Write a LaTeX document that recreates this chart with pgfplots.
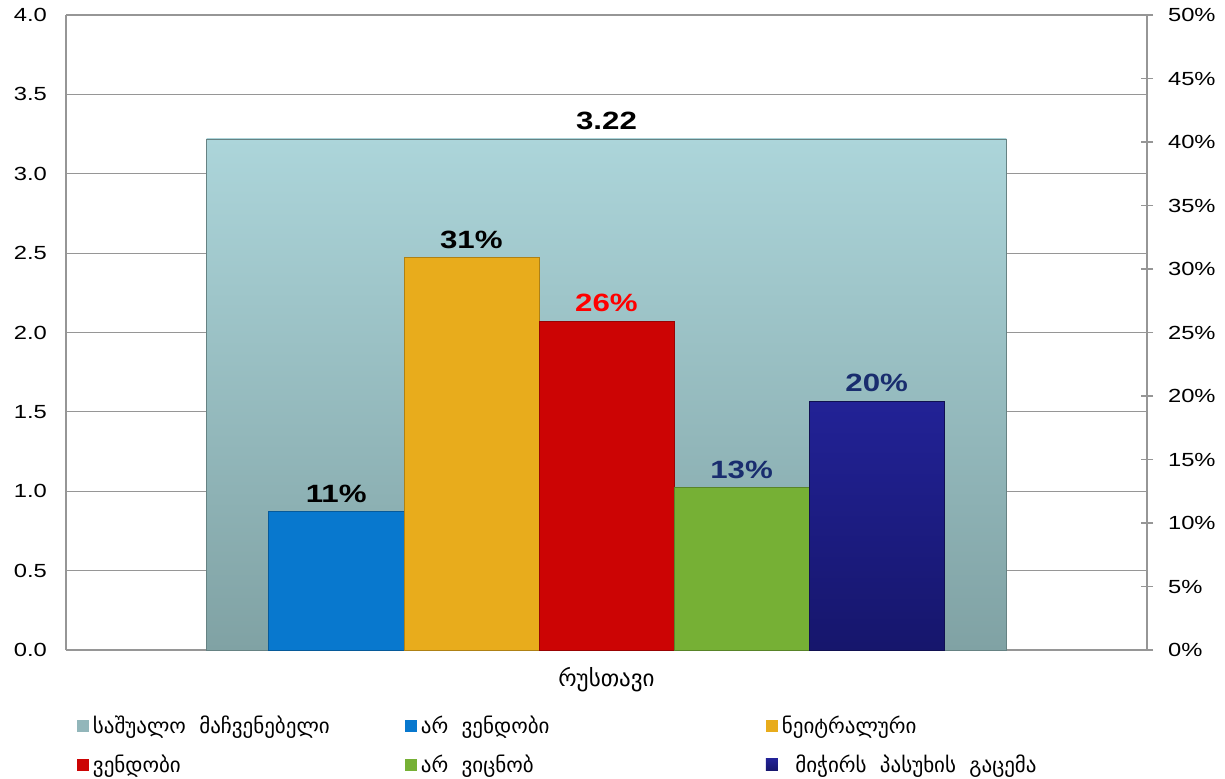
\documentclass[border=0pt]{standalone}
\usepackage{pgfplots}
\pgfplotsset{compat=1.18}
\usepackage{fontspec}
\setmainfont{Liberation Sans}[FakeStretch=1.25]
\newfontfamily\geo{DejaVu Sans}
\definecolor{meantop}{RGB}{172,213,218}
\definecolor{meanbot}{RGB}{128,162,164}
\definecolor{cblue}{RGB}{8,120,206}
\definecolor{cyellow}{RGB}{232,172,28}
\definecolor{cred}{RGB}{204,4,4}
\definecolor{cgreen}{RGB}{118,176,53}
\definecolor{cnavytop}{RGB}{34,34,150}
\definecolor{cnavybot}{RGB}{22,22,108}
\definecolor{clabnavy}{RGB}{25,45,110}
\definecolor{gridc}{RGB}{150,150,150}
\begin{document}
\begin{tikzpicture}
\useasboundingbox (-33pt,-64pt) rectangle (579.5pt,325pt);
\begin{axis}[
  at={(0,0)}, anchor=south west,
  scale only axis, width=540.5pt, height=317.5pt,
  xmin=-1, xmax=1, ymin=0, ymax=4,
  axis x line*=bottom, axis y line*=left,
  axis line style={gridc, line width=0.6pt},
  ytick={0,0.5,...,4},
  yticklabel style={/pgf/number format/fixed, /pgf/number format/fixed zerofill, /pgf/number format/precision=1, font=\fontsize{9.5}{11}\selectfont, xshift=-6pt},
  /pgf/number format/assume math mode=true,
  ymajorgrids, grid style={gridc, line width=0.6pt},
  major tick length=0pt,
  xtick={0}, xticklabels={\geo რუსთავი},
  xticklabel style={font=\geo\fontsize{11.5}{13}\selectfont, yshift=-5pt},
  clip=false,
]
\addplot[ybar, bar width=1.48, bar shift=0pt, top color=meantop, bottom color=meanbot, draw=meanbot!80!black, line width=0.3pt,
  nodes near coords, point meta=explicit symbolic,
  nodes near coords style={font=\bfseries\fontsize{12.5}{14}\selectfont, text=black, yshift=1pt}]
  coordinates {(0,3.22) [3.22]};
\end{axis}
\begin{axis}[
  at={(0,0)}, anchor=south west,
  scale only axis, width=540.5pt, height=317.5pt,
  xmin=-1, xmax=1, ymin=0, ymax=50,
  axis x line=none, axis y line*=right,
  axis line style={gridc, line width=0.6pt},
  ytick={0,5,...,50},
  yticklabel={\pgfmathprintnumber{\tick}\%},
  yticklabel style={font=\fontsize{9.5}{11}\selectfont, xshift=4pt},
  /pgf/number format/assume math mode=true,
  tick align=center, major tick length=6pt, tick style={gridc, line width=0.6pt},
  clip=false,
  legend style={at={(axis description cs:0.0098,-0.097)}, anchor=north west, draw=none, fill=none,
    font=\geo\fontsize{10.5}{12}\selectfont, row sep=5pt, inner sep=0pt},
  legend columns=3,
  legend image code/.code={\fill[#1,draw=none] (0pt,-3pt) rectangle (6pt,3pt);},
  nodes near coords style={font=\bfseries\fontsize{12.5}{14}\selectfont, yshift=1pt},
]
\addlegendimage{fill=meanbot!60!meantop}
\addlegendentry{\makebox[154pt][l]{საშუალო\ \ მაჩვენებელი}}
\addplot[ybar, bar width=0.25, bar shift=0pt, fill=cblue, draw=cblue!75!black, line width=0.3pt,
  nodes near coords, point meta=explicit symbolic, nodes near coords style={text=black}]
  coordinates {(-0.5,10.9) [11\%]};
\addlegendentry{\makebox[170.5pt][l]{არ\ \ ვენდობი}}
\addplot[ybar, bar width=0.25, bar shift=0pt, fill=cyellow, draw=cyellow!75!black, line width=0.3pt,
  nodes near coords, point meta=explicit symbolic, nodes near coords style={text=black}]
  coordinates {(-0.25,30.9) [31\%]};
\addlegendentry{\makebox[150pt][l]{ნეიტრალური}}
\addplot[ybar, bar width=0.25, bar shift=0pt, fill=cred, draw=cred!75!black, line width=0.3pt,
  nodes near coords, point meta=explicit symbolic, nodes near coords style={text=red}]
  coordinates {(0,25.9) [26\%]};
\addlegendentry{\makebox[154pt][l]{ვენდობი}}
\addplot[ybar, bar width=0.25, bar shift=0pt, fill=cgreen, draw=cgreen!75!black, line width=0.3pt,
  nodes near coords, point meta=explicit symbolic, nodes near coords style={text=clabnavy}]
  coordinates {(0.25,12.8) [13\%]};
\addlegendentry{\makebox[170.5pt][l]{არ\ \ ვიცნობ}}
\addplot[ybar, bar width=0.25, bar shift=0pt, top color=cnavytop, bottom color=cnavybot, draw=cnavybot!75!black, line width=0.3pt,
  nodes near coords, point meta=explicit symbolic, nodes near coords style={text=clabnavy}]
  coordinates {(0.5,19.6) [20\%]};
\addlegendentry{\makebox[150pt][l]{\ \ მიჭირს\ \ პასუხის\ \ გაცემა}}
\end{axis}
\end{tikzpicture}
\end{document}
